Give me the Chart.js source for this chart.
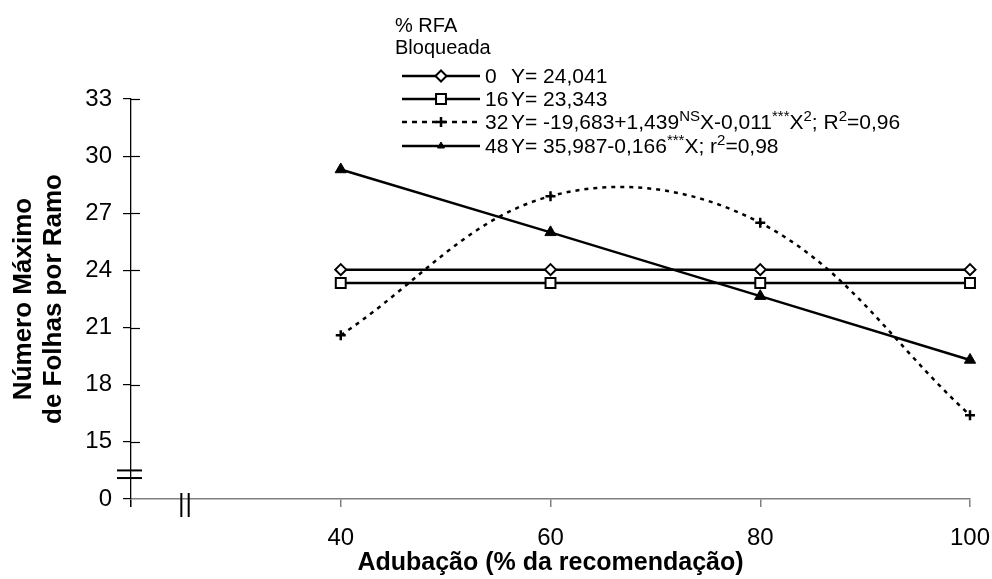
<!DOCTYPE html>
<html>
<head>
<meta charset="utf-8">
<script src="https://cdn.jsdelivr.net/npm/chart.js@4.4.1/dist/chart.umd.min.js"></script>
<style>
  html, body { margin: 0; padding: 0; background: #fff; }
</style>
</head>
<body>
<canvas id="grafico" width="992" height="579"></canvas>
<script>
// Dados
const adubacao = [40, 60, 80, 100];
const rfa0 = [24.041, 24.041, 24.041, 24.041];
const rfa16 = [23.343, 23.343, 23.343, 23.343];
const rfa32 = [20.6, 27.9, 26.5, 16.4];
const rfa48 = [29.3, 26.0, 22.65, 19.3];
const rotulosRFA = ['0', '16', '32', '48'];

// Eixo Y quebrado: a marca "0" ocupa a posição do 12
const ticksY = [12, 15, 18, 21, 24, 27, 30, 33];
const rotulosY = ['0', '15', '18', '21', '24', '27', '30', '33'];
const ticksX = [20, 40, 60, 80, 100];
const rotulosX = ['', '40', '60', '80', '100'];

// Equações da legenda (texto, sobrescrito?)
const equacoes = [
    [['Y= 24,041', false]],
    [['Y= 23,343', false]],
    [['Y= -19,683+1,439', false], ['NS', true], ['X-0,011', false], ['***', true], ['X', false], ['2', true], ['; R', false], ['2', true], ['=0,96', false]],
    [['Y= 35,987-0,166', false], ['***', true], ['X; r', false], ['2', true], ['=0,98', false]]
];

const FONTE = '"Liberation Sans", Arial, Helvetica, sans-serif';
Chart.defaults.font.family = FONTE;
Chart.defaults.color = '#000';

const pontos = serie => adubacao.map((x, i) => ({ x: x, y: serie[i] }));

// Marcas de quebra, traços internos dos ticks e legenda
const decoracao = {
    id: 'decoracao',
    afterDraw(chart) {
        const ctx = chart.ctx;
        const sx = chart.scales.x;
        const sy = chart.scales.y;
        const eixoX = sx.getPixelForValue(20);
        const eixoY = sy.getPixelForValue(12);
        ctx.save();

        // traços dos ticks do eixo Y para dentro
        ctx.strokeStyle = '#000';
        ctx.lineWidth = 1.2;
        ticksY.slice(1).forEach(v => {
            const y = Math.round(sy.getPixelForValue(v)) + 0.5;
            ctx.beginPath();
            ctx.moveTo(eixoX, y);
            ctx.lineTo(eixoX + 9, y);
            ctx.stroke();
        });

        // quebras dos eixos
        ctx.lineWidth = 2;
        [13.1, 13.5].forEach(v => {
            const y = sy.getPixelForValue(v);
            ctx.beginPath();
            ctx.moveTo(eixoX - 14, y);
            ctx.lineTo(eixoX + 11, y);
            ctx.stroke();
        });
        [24.8, 25.5].forEach(v => {
            const x = sx.getPixelForValue(v);
            ctx.beginPath();
            ctx.moveTo(x, eixoY - 6);
            ctx.lineTo(x, eixoY + 18);
            ctx.stroke();
        });

        // legenda
        ctx.fillStyle = '#000';
        ctx.font = '20px ' + FONTE;
        ctx.textBaseline = 'alphabetic';
        ctx.fillText('% RFA', 395, 32);
        ctx.fillText('Bloqueada', 395, 54);
        const linhaY = [76, 99, 122, 146];
        chart.data.datasets.forEach((ds, i) => {
            const y = linhaY[i];
            ctx.strokeStyle = '#000';
            ctx.lineWidth = ds.borderWidth;
            ctx.setLineDash(ds.borderDash ? [5, 5] : []);
            ctx.beginPath();
            ctx.moveTo(402, y);
            ctx.lineTo(480, y);
            ctx.stroke();
            ctx.setLineDash([]);
            ctx.fillStyle = ds.pointBackgroundColor;
            ctx.lineWidth = ds.pointBorderWidth;
            Chart.helpers.drawPoint(ctx, {
                pointStyle: ds.pointStyle,
                radius: i === 3 ? 4 : ds.pointRadius,
                rotation: 0,
                borderWidth: ds.pointBorderWidth
            }, 441, y);
            ctx.fillStyle = '#000';
            ctx.font = '21px ' + FONTE;
            ctx.fillText(rotulosRFA[i], 485, y + 7);
            let x = 511;
            equacoes[i].forEach(([txt, sup]) => {
                ctx.font = (sup ? '15px ' : '21px ') + FONTE;
                ctx.fillText(txt, x, sup ? y - 1 : y + 7);
                x += ctx.measureText(txt).width;
            });
        });
        ctx.restore();
    }
};

new Chart(document.getElementById('grafico'), {
    type: 'line',
    data: {
        datasets: [{
            label: rotulosRFA[0],
            data: pontos(rfa0),
            borderColor: '#000',
            borderWidth: 2.5,
            pointStyle: 'rectRot',
            pointRadius: 5.5,
            pointBackgroundColor: '#fff',
            pointBorderColor: '#000',
            pointBorderWidth: 2,
            clip: false
        }, {
            label: rotulosRFA[1],
            data: pontos(rfa16),
            borderColor: '#000',
            borderWidth: 2.5,
            pointStyle: 'rect',
            pointRadius: 7,
            pointBackgroundColor: '#fff',
            pointBorderColor: '#000',
            pointBorderWidth: 2,
            clip: false
        }, {
            label: rotulosRFA[2],
            data: pontos(rfa32),
            borderColor: '#000',
            borderWidth: 2.5,
            borderDash: [4, 5],
            tension: 0.37,
            pointStyle: 'cross',
            pointRadius: 5,
            pointBackgroundColor: '#000',
            pointBorderColor: '#000',
            pointBorderWidth: 2.5,
            clip: false
        }, {
            label: rotulosRFA[3],
            data: pontos(rfa48),
            borderColor: '#000',
            borderWidth: 2.5,
            pointStyle: 'triangle',
            pointRadius: 6.5,
            pointBackgroundColor: '#000',
            pointBorderColor: '#000',
            pointBorderWidth: 1,
            clip: false
        }]
    },
    options: {
        responsive: false,
        animation: false,
        devicePixelRatio: 1,
        layout: { padding: { top: 99, right: 22, left: 0, bottom: 0 } },
        plugins: {
            legend: { display: false },
            tooltip: { enabled: false }
        },
        scales: {
            x: {
                type: 'linear',
                min: 20,
                max: 100,
                afterBuildTicks: s => { s.ticks = ticksX.map(v => ({ value: v })); },
                afterFit: s => { s.height = 80; s.paddingLeft = 0; s.paddingRight = 0; },
                ticks: {
                    callback: v => rotulosX[ticksX.indexOf(v)],
                    font: { size: 24 },
                    color: '#000',
                    padding: 17,
                    maxRotation: 0,
                    autoSkip: false
                },
                grid: {
                    drawOnChartArea: false,
                    tickLength: 8,
                    lineWidth: 1.5,
                    color: c => (c.tick && c.tick.value === 20) ? '#000' : '#808080'
                },
                border: { color: '#808080', width: 1.5 },
                title: {
                    display: true,
                    text: 'Adubação (% da recomendação)',
                    font: { size: 25, weight: 'bold' },
                    padding: { top: 0, bottom: 1 }
                }
            },
            y: {
                min: 12,
                max: 33,
                afterBuildTicks: s => { s.ticks = ticksY.map(v => ({ value: v })); },
                afterFit: s => { s.width = 131; },
                ticks: {
                    callback: v => rotulosY[ticksY.indexOf(v)],
                    font: { size: 24 },
                    color: '#000',
                    padding: 11
                },
                grid: {
                    drawOnChartArea: false,
                    tickLength: 8,
                    lineWidth: 1.2,
                    color: '#000'
                },
                border: { color: '#000', width: 1.3 },
                title: {
                    display: true,
                    text: ['Número Máximo', 'de Folhas por Ramo'],
                    font: { size: 26, weight: 'bold', lineHeight: 1.15 },
                    padding: { top: 9, bottom: 0 }
                }
            }
        }
    },
    plugins: [decoracao]
});
</script>
</body>
</html>
